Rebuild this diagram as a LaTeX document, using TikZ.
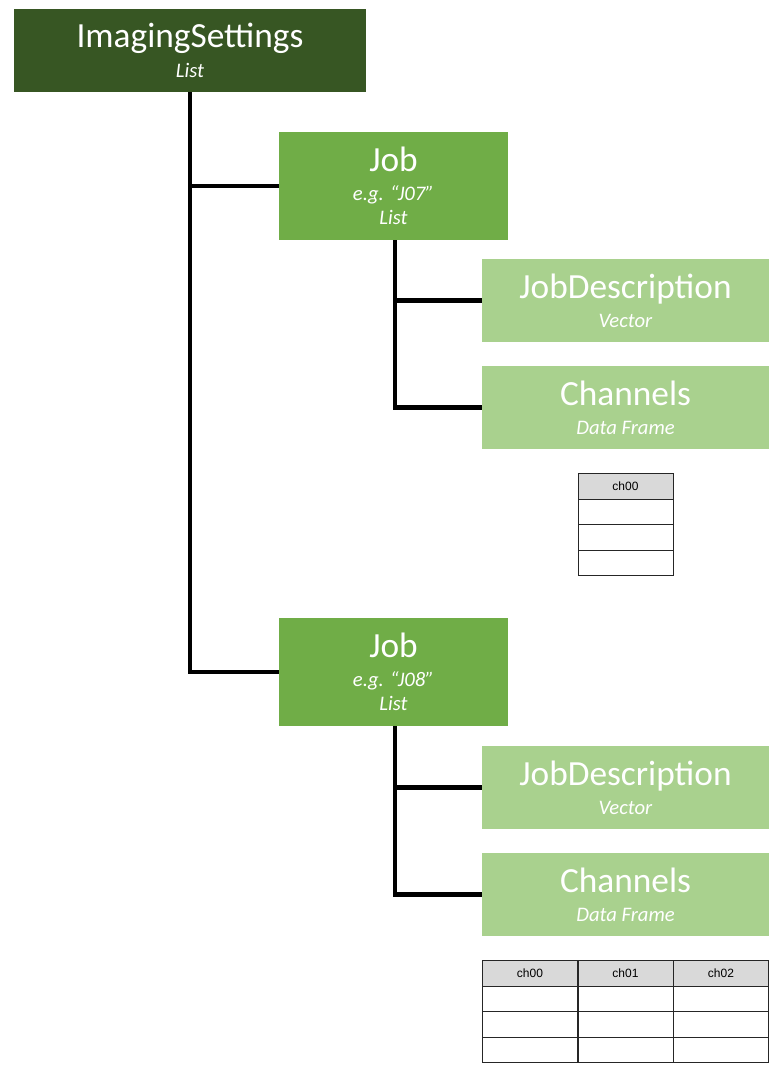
\documentclass[tikz,border=0pt]{standalone}
\usepackage{fontspec}
\setmainfont{Carlito}
\newfontfamily\cellfont{Liberation Sans}
\usetikzlibrary{positioning,calc}
\definecolor{darkgreen}{HTML}{375623}
\definecolor{midgreen}{HTML}{70AD47}
\definecolor{lightgreen}{HTML}{A9D18E}
\definecolor{headgrey}{HTML}{D9D9D9}
\newcommand{\titletext}[1]{\fontsize{26.5}{30}\selectfont #1}
\newcommand{\kindtext}[1]{\itshape\fontsize{15.5}{18}\selectfont #1}

\begin{document}
\begin{tikzpicture}[x=0.75pt,y=-0.75pt,
    every node/.style={inner sep=0pt,align=center,text=white,font=\fontsize{15.5}{18}\selectfont},
    rootbox/.style={fill=darkgreen,minimum width=264pt,minimum height=62.25pt},
    jobbox/.style={fill=midgreen,minimum width=171.75pt,minimum height=81pt},
    leafbox/.style={fill=lightgreen,minimum width=215.25pt,minimum height=62.25pt},
    cell/.style={draw=black!85,line width=0.6pt,text=black,font=\cellfont\fontsize{9}{10}\selectfont,minimum width=71.25pt,minimum height=19.1pt},
    headcell/.style={cell,fill=headgrey},
    link/.style={line width=3.4pt}]
    \useasboundingbox (0,0) rectangle (781,1071);

    \node[rootbox] (is) at (190,50.5) {\titletext{ImagingSettings}\\[4pt]\kindtext{List}};

    \node[jobbox] (job1) at (393.5,186) {\titletext{Job}\\[4pt]\kindtext{e.g. “J07”}\\\kindtext{List}};
    \node[leafbox] (desc1) at (625.5,300.5) {\titletext{JobDescription}\\[4pt]\kindtext{Vector}};
    \node[leafbox] (chan1) at (625.5,407.5) {\titletext{Channels}\\[4pt]\kindtext{Data Frame}};

    \node[jobbox] (job2) at (393.5,672) {\titletext{Job}\\[4pt]\kindtext{e.g. “J08”}\\\kindtext{List}};
    \node[leafbox] (desc2) at (625.5,787.5) {\titletext{JobDescription}\\[4pt]\kindtext{Vector}};
    \node[leafbox] (chan2) at (625.5,894.5) {\titletext{Channels}\\[4pt]\kindtext{Data Frame}};

    % tree links
    \draw[link] (is.south) |- (job1.west);
    \draw[link] (is.south) |- (job2.west);
    \draw[link] ($(job1.south)+(1.5,0)$) |- (desc1.west);
    \draw[link] ($(job1.south)+(1.5,0)$) |- (chan1.west);
    \draw[link] ($(job2.south)+(1.5,0)$) |- (desc2.west);
    \draw[link] ($(job2.south)+(1.5,0)$) |- (chan2.west);

    % data frame of the first job
    \node[headcell] (t1h) at (625.5,486.5) {ch00};
    \foreach \r in {1,2,3}
      \node[cell] (t1r\r) at (625.5,486.5+25.5*\r) {};

    % data frame of the second job
    \foreach \c [count=\i] in {ch00,ch01,ch02} {
      \node[headcell] (t2h\i) at (434.5+95.5*\i,973.5) {\c};
      \foreach \r in {1,2,3}
        \node[cell] (t2r\r c\i) at (434.5+95.5*\i,973.5+25.5*\r) {};
    }
\end{tikzpicture}
\end{document}
